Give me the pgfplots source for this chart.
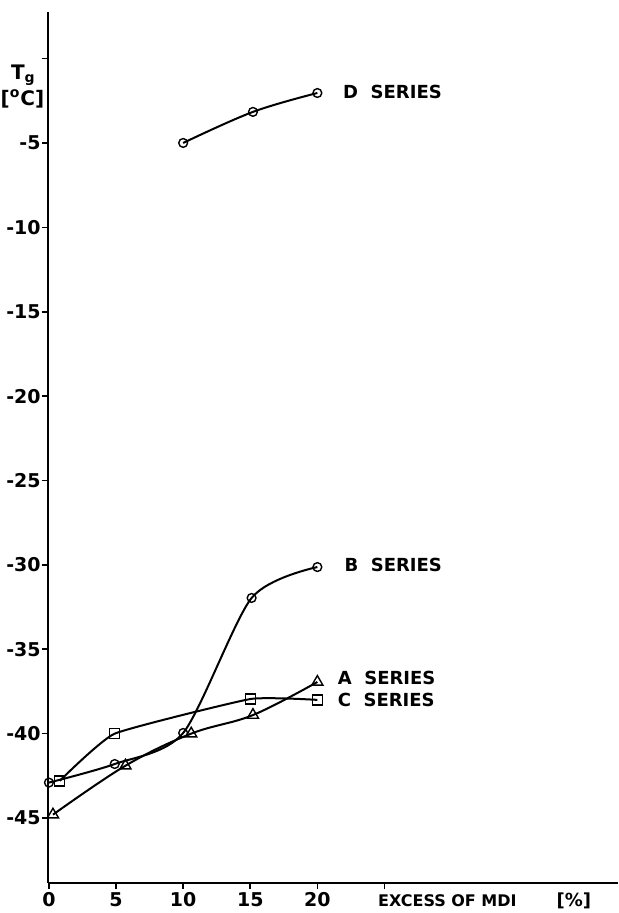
\documentclass[border=0pt]{standalone}
\usepackage{fontspec}
\setmainfont{DejaVu Sans}
\usepackage{pgfplots}
\pgfplotsset{compat=1.18}
\begin{document}
\begin{tikzpicture}[font=\bfseries]
\begin{axis}[
  scale only axis,
  width=285pt, height=435.5pt,
  xmin=-0.07, xmax=42.4,
  ymin=-48.85, ymax=2.76,
  axis x line*=bottom, axis y line*=left,
  axis line style={-, line width=0.8pt},
  xtick={0,5,10,15,20}, extra x ticks={25}, extra x tick labels={},
  ytick={-45,-40,-35,-30,-25,-20,-15,-10,-5}, extra y ticks={0}, extra y tick labels={},
  tick style={black, line width=0.8pt}, tick align=outside,
  major tick length=3pt,
  tick label style={font=\bfseries\fontsize{9.5}{11}\selectfont},
  yticklabel style={inner sep=0.5pt},
  xticklabel style={inner sep=1.5pt},
  /pgf/number format/assume math mode=true,
  clip=false,
  every axis plot/.append style={black, line width=1pt, smooth, tension=0.6},
]
% D series
\addplot[mark=o, mark size=2.2pt, mark options={fill=white, line width=0.7pt}] coordinates {(10,-5.0) (15.2,-3.16) (20,-2.04)};
% B series
\addplot[mark=o, mark size=2.2pt, tension=0.45, mark options={fill=white, line width=0.7pt}] coordinates {(0,-42.9) (4.9,-41.8) (10,-39.96) (15.1,-31.96) (20,-30.13)};
% A series
\addplot[mark=triangle, mark size=3.2pt, mark options={fill=white, line width=0.7pt}] coordinates {(0.3,-44.8) (5.7,-41.9) (10.6,-40.0) (15.2,-38.9) (20,-36.94)};
% C series
\addplot[mark=square, mark size=2.5pt, tension=0.25, mark options={fill=white, line width=0.7pt}] coordinates {(0.8,-42.8) (4.9,-40.0) (15,-37.95) (20,-38.0)};

\node[anchor=west, font=\bfseries\fontsize{9}{11}\selectfont] at (axis cs:21.4,-2.0) {D\ \ SERIES};
\node[anchor=west, font=\bfseries\fontsize{9}{11}\selectfont] at (axis cs:21.5,-30.0) {B\ \ SERIES};
\node[anchor=west, font=\bfseries\fontsize{9}{11}\selectfont] at (axis cs:21.0,-36.7) {A\ \ SERIES};
\node[anchor=west, font=\bfseries\fontsize{9}{11}\selectfont] at (axis cs:21.0,-38.0) {C\ \ SERIES};
\node[anchor=west, font=\bfseries\fontsize{8}{10}\selectfont] at (axis cs:24.0,-49.9) {EXCESS OF MDI};
\node[anchor=west, font=\bfseries\fontsize{9}{10}\selectfont] at (axis cs:37.3,-49.9) {[\%]};
\node[font=\bfseries\fontsize{10}{11}\selectfont] at (axis cs:-1.9,-0.97) {T$_{\mathbf{g}}$};
\node[font=\bfseries\fontsize{10}{11}\selectfont] at (axis cs:-1.97,-2.39) {[\textsuperscript{o}C]};
\end{axis}
\pgfresetboundingbox
\path ([xshift=-24pt,yshift=-15pt]current axis.south west) rectangle ([yshift=6pt]current axis.north east);
\end{tikzpicture}
\end{document}
